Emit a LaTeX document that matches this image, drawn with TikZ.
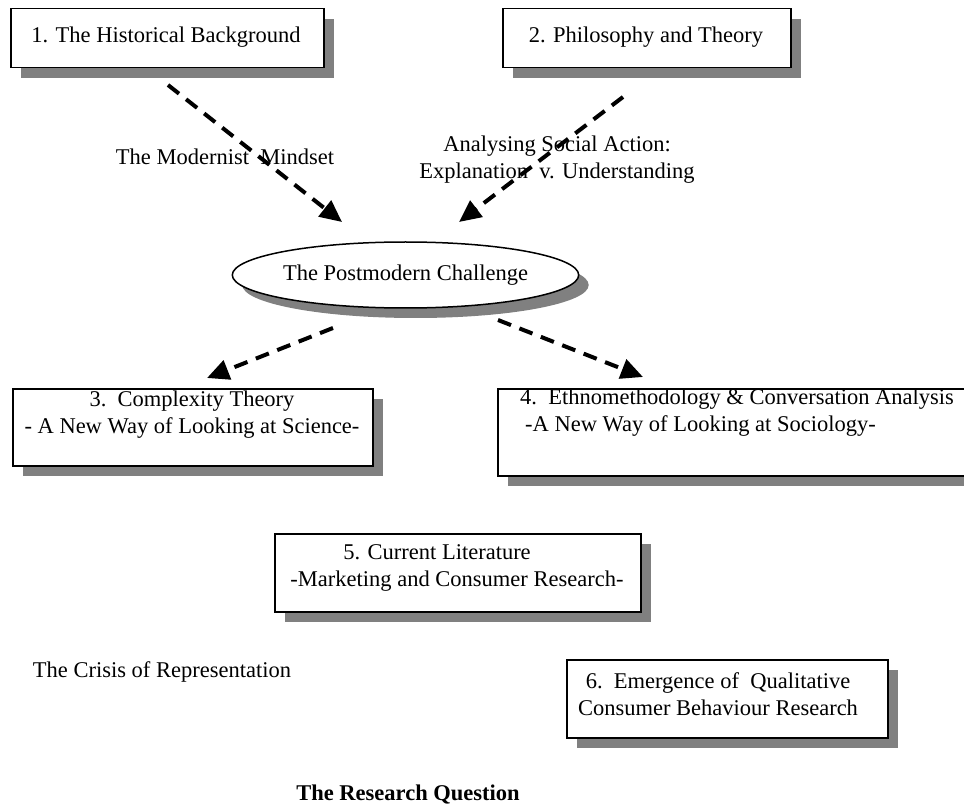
\documentclass[tikz,border=0pt]{standalone}
\usepackage{fontspec}
\setmainfont{Liberation Serif}
\usetikzlibrary{arrows.meta,shadows,shapes.geometric}
\begin{document}
\begin{tikzpicture}[x=1pt,y=-1pt,
  every node/.style={font=\fontsize{22.5}{27}\selectfont, inner sep=0pt},
  shade box/.style={drop shadow={shadow xshift=10pt, shadow yshift=-10pt, fill=black!50, opacity=1}},
  box/.style={draw=black, line width=1.5pt, fill=white, anchor=north west, shade box},
  oval/.style={ellipse, draw=black, line width=1.5pt, fill=white, shade box},
  flow/.style={line width=4pt, dash pattern=on 14pt off 9pt,
    -{Triangle[length=22pt,width=20pt]}},
  lbl/.style={align=center}]
\useasboundingbox (0,0) rectangle (964,810);
\clip (0,0) rectangle (964,810);

% boxes
\node[box, minimum width=313pt, minimum height=59pt] (b1) at (10,8) {};
\node[box, minimum width=288pt, minimum height=59pt] (b2) at (502,8) {};
\node[box, minimum width=360pt, minimum height=77pt] (b3) at (12,388) {};
\node[box, minimum width=475pt, minimum height=87pt] (b4) at (497,388) {};
\node[box, minimum width=366pt, minimum height=78pt] (b5) at (274,533) {};
\node[box, minimum width=321pt, minimum height=78pt] (b6) at (566,659) {};

% central ellipse
\node[oval, minimum width=323pt, minimum height=66pt] (pm) at (405.5,275) {The Postmodern Challenge};

% box texts
\node (t1) at (166,37) {1. The Historical Background};
\node (t2) at (646,37) {2. Philosophy and Theory};
\node[lbl] (t3) at (192,415) {3.\ \ Complexity Theory\\- A New Way of Looking at Science-};
\node[align=left, anchor=west] (t4) at (520,412.5) {4.\ \ Ethnomethodology \& Conversation Analysis\\\hspace{5pt}-A New Way of Looking at Sociology-};
\node[lbl] (t5) at (457,568) {\mbox{5. Current Literature\hspace{40pt}}\\-Marketing and Consumer Research-};
\node[lbl] (t6) at (718,694) {6.\ \ Emergence of\ \ Qualitative\\Consumer Behaviour Research};

% free labels
\node (l1) at (225,157) {The Modernist\ \ Mindset};
\node[lbl] (l2) at (557,160) {Analysing Social Action:\\Explanation\ \ v. Understanding};
\node (crisis) at (162,672) {The Crisis of Representation};
\node (rq) at (408,795) {\textbf{The Research Question}};

% connector end points
\coordinate (a1s) at (168,85);  \coordinate (a1e) at (342,222);
\coordinate (a2s) at (623,97);  \coordinate (a2e) at (459,222);
\coordinate (a3s) at (333,328); \coordinate (a3e) at (207,378);
\coordinate (a4s) at (498,320); \coordinate (a4e) at (643,377);

\draw[flow] (a1s) -- (a1e);
\draw[flow] (a2s) -- (a2e);
\draw[flow] (a3s) -- (a3e);
\draw[flow] (a4s) -- (a4e);
\end{tikzpicture}
\end{document}
